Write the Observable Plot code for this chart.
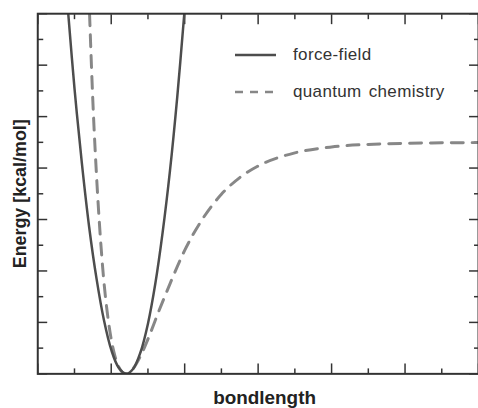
<!DOCTYPE html>
<html>
<head>
<meta charset="utf-8">
<script src="https://cdn.jsdelivr.net/npm/d3@7"></script>
<script src="https://cdn.jsdelivr.net/npm/@observablehq/plot@0.6"></script>
<style>
  html, body { margin: 0; padding: 0; background: #fff; overflow: hidden; }
  #wrap { position: relative; width: 478px; height: 408px; overflow: hidden; font-family: "Liberation Sans", Arial, sans-serif; }
  .leg { position: absolute; display: flex; align-items: center; font-size: 17px; color: #333; letter-spacing: 0.35px; word-spacing: 2px; white-space: nowrap; }
  .leg svg { margin-right: 16px; }
</style>
</head>
<body>
<div id="wrap"></div>
<script>
// (arbitrary units: x in minor-tick steps, y in minor-tick steps)
const seriesNames = ["force-field", "quantum chemistry"];
const ffX = [0.83, 1.0, 1.2, 1.4, 1.6, 1.8, 2.0, 2.2, 2.41, 2.6, 2.8, 3.0, 3.2, 3.4, 3.6, 3.8, 3.99];
const ffY = [14.0, 11.1, 8.2, 5.7, 3.7, 2.1, 0.94, 0.25, 0, 0.2, 0.85, 1.95, 3.5, 5.5, 7.9, 10.8, 14.0];
const qcX = [1.41, 1.5, 1.6, 1.7, 1.8, 1.9, 2.0, 2.1, 2.2, 2.3, 2.41, 2.6, 2.8, 3.0, 3.3, 3.6, 4.0, 4.5, 5.0, 5.5, 6.0, 7.0, 8.0, 9.0, 10.0, 11.0, 12.0];
const qcY = [14.0, 10.6, 7.7, 5.4, 3.6, 2.3, 1.35, 0.7, 0.28, 0.07, 0, 0.21, 0.7, 1.35, 2.45, 3.5, 4.8, 6.05, 6.98, 7.63, 8.08, 8.59, 8.82, 8.92, 8.96, 8.98, 8.99];
const xMajorTicks = [0, 2, 4, 6, 8, 10, 12];
const xMinorTicks = [1, 3, 5, 7, 9, 11];
const yMajorTicks = [0, 2, 4, 6, 8, 10, 12, 14];
const yMinorTicks = [1, 3, 5, 7, 9, 11, 13];
const xLabel = "bondlength";
const yLabel = "Energy [kcal/mol]";

const ff = ffX.map((x, i) => ({x, y: ffY[i]}));
const qc = qcX.map((x, i) => ({x, y: qcY[i]}));

const tickColor = "#333";
const blank = () => "";
function ticks(axis, anchor, values, size) {
  const f = axis === "x" ? Plot.axisX : Plot.axisY;
  return f(values, {anchor, tickSize: -size, tickFormat: blank, label: null, stroke: tickColor, strokeWidth: 1.5});
}

const chart = Plot.plot({
  width: 481,
  height: 408,
  marginLeft: 37.5,
  marginRight: 0,
  marginTop: 13.3,
  marginBottom: 32.3,
  style: {fontFamily: "'Liberation Sans', Arial, sans-serif", background: "#fff", overflow: "visible"},
  x: {domain: [0, 12]},
  y: {domain: [0, 14]},
  marks: [
    ticks("x", "bottom", xMajorTicks, 10),
    ticks("x", "bottom", xMinorTicks, 5),
    ticks("x", "top", xMajorTicks, 10),
    ticks("x", "top", xMinorTicks, 5),
    ticks("y", "left", yMajorTicks, 10),
    ticks("y", "left", yMinorTicks, 6),
    ticks("y", "right", yMajorTicks, 10),
    ticks("y", "right", yMinorTicks, 5),
    Plot.line(qc, {x: "x", y: "y", stroke: "#878787", strokeWidth: 3, strokeDasharray: "12,9", curve: "monotone-x", clip: true}),
    Plot.line(ff, {x: "x", y: "y", stroke: "#4d4d4d", strokeWidth: 2.5, curve: "catmull-rom", clip: true}),
    Plot.frame({stroke: "#333", strokeWidth: 2}),
    Plot.text([yLabel], {text: d => d, frameAnchor: "left", rotate: -90, dx: -17.5, fontSize: 18, fontWeight: "bold", fill: "#222", textAnchor: "middle", lineAnchor: "middle"}),
    Plot.text([xLabel], {text: d => d, frameAnchor: "bottom", dy: 24.5, dx: 6.5, fontSize: 19, fontWeight: "bold", fill: "#222", textAnchor: "middle", lineAnchor: "middle"})
  ]
});

const wrap = document.getElementById("wrap");
wrap.appendChild(chart);

// Legend (inside plot area, top right)
const legendItems = [
  {name: seriesNames[0], dash: null, color: "#4d4d4d", width: 2.5, top: 55, left: 235},
  {name: seriesNames[1], dash: "8,7", color: "#878787", width: 2.5, top: 92, left: 235}
];
for (const it of legendItems) {
  const div = document.createElement("div");
  div.className = "leg";
  div.style.left = it.left + "px";
  div.style.top = (it.top - 12) + "px";
  div.style.height = "24px";
  const ns = "http://www.w3.org/2000/svg";
  const s = document.createElementNS(ns, "svg");
  s.setAttribute("width", 42);
  s.setAttribute("height", 6);
  const l = document.createElementNS(ns, "line");
  l.setAttribute("x1", 0); l.setAttribute("x2", 41);
  l.setAttribute("y1", 3); l.setAttribute("y2", 3);
  l.setAttribute("stroke", it.color);
  l.setAttribute("stroke-width", it.width);
  if (it.dash) l.setAttribute("stroke-dasharray", it.dash);
  s.appendChild(l);
  div.appendChild(s);
  const span = document.createElement("span");
  span.textContent = it.name;
  div.appendChild(span);
  wrap.appendChild(div);
}
</script>
</body>
</html>
